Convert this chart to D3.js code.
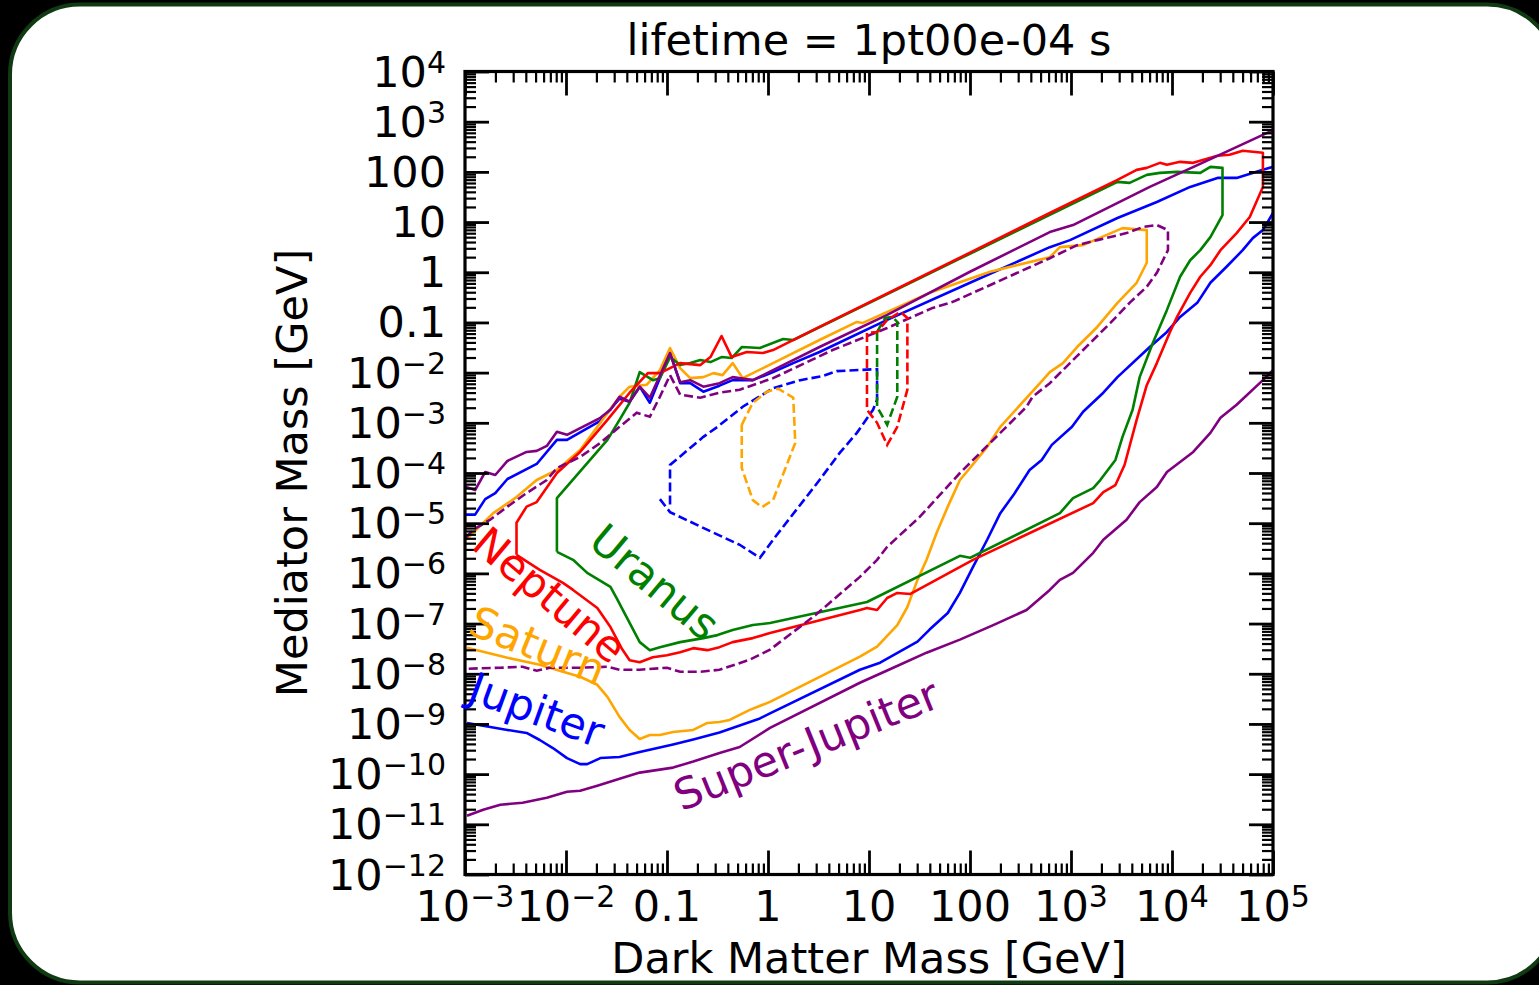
<!DOCTYPE html>
<html>
<head>
<meta charset="utf-8">
<script src="https://cdn.jsdelivr.net/npm/d3@7"></script>
<style>
  body { margin: 0; background: #000; }
  svg { display: block; }
  text { font-family: "DejaVu Sans", sans-serif; fill: #000; }
</style>
</head>
<body>
<script>
var width = 1539;
var height = 985;
var plot = {left: 465, right: 1273, top: 71.5, bottom: 874.5};

// every point is [log10 dark matter mass / GeV, log10 mediator mass / GeV]
var jupiterUpper = [[-2.99,-4.83],[-2.90,-4.83],[-2.80,-4.52],[-2.70,-4.40],[-2.58,-4.12],[-2.29,-3.82],[-2.09,-3.34],[-1.99,-3.34],[-1.66,-2.96],[-1.47,-2.52],[-1.37,-2.58],[-1.27,-2.28],[-1.17,-2.60],[-0.97,-1.61],[-0.87,-2.21],[-0.77,-2.21],[-0.64,-2.38],[-0.48,-2.26],[-0.35,-2.15],[-0.15,-2.15],[0.05,-1.99],[0.25,-1.81],[0.51,-1.59],[1.18,-0.95],[2.00,-0.21],[2.79,0.50],[2.99,0.64],[3.46,1.08],[3.85,1.40],[4.18,1.70],[4.45,1.88],[4.64,1.88],[4.90,2.04],[5.00,2.10]];
var jupiterLower = [[-2.98,-8.98],[-2.75,-9.06],[-2.58,-9.12],[-2.39,-9.18],[-2.26,-9.32],[-2.13,-9.48],[-1.99,-9.68],[-1.86,-9.80],[-1.79,-9.80],[-1.66,-9.68],[-1.47,-9.66],[-1.27,-9.56],[-0.94,-9.41],[-0.74,-9.31],[-0.48,-9.17],[-0.28,-9.03],[-0.08,-8.89],[0.02,-8.79],[0.91,-7.92],[1.11,-7.78],[1.48,-7.36],[1.60,-7.12],[1.78,-6.79],[1.90,-6.39],[2.03,-5.87],[2.17,-5.33],[2.30,-4.80],[2.43,-4.44],[2.59,-3.94],[2.71,-3.74],[2.81,-3.44],[3.01,-3.08],[3.12,-2.78],[3.32,-2.40],[3.46,-2.09],[3.78,-1.49],[3.95,-1.19],[4.08,-0.89],[4.25,-0.61],[4.38,-0.21],[4.54,0.11],[4.70,0.44],[4.80,0.68],[4.90,0.84],[5.00,1.18]];
var saturnSolid = [[-2.99,-5.33],[-2.92,-5.19],[-2.72,-4.80],[-2.49,-4.48],[-2.29,-4.14],[-2.09,-3.94],[-1.86,-3.54],[-1.66,-3.00],[-1.47,-2.48],[-1.37,-2.28],[-1.20,-2.24],[-1.07,-1.95],[-0.97,-1.51],[-0.87,-1.91],[-0.77,-2.11],[-0.64,-2.09],[-0.54,-2.01],[-0.45,-2.05],[-0.35,-1.81],[-0.25,-2.11],[0.51,-1.35],[0.88,-0.99],[0.94,-1.01],[1.60,-0.41],[2.20,0.01],[2.79,0.30],[2.89,0.50],[3.12,0.54],[3.51,0.88],[3.75,0.84],[3.75,0.19],[3.65,-0.21],[3.46,-0.61],[3.26,-1.09],[3.06,-1.49],[2.92,-1.81],[2.79,-1.99],[2.72,-2.15],[2.30,-3.08],[2.17,-3.48],[2.00,-3.90],[1.90,-4.14],[1.78,-4.67],[1.67,-5.19],[1.57,-5.73],[1.48,-6.13],[1.38,-6.67],[1.28,-7.03],[1.08,-7.46],[0.91,-7.66],[0.02,-8.56],[-0.18,-8.72],[-0.38,-8.92],[-0.48,-8.96],[-0.60,-8.98],[-0.74,-9.12],[-0.94,-9.16],[-1.07,-9.22],[-1.17,-9.22],[-1.27,-9.30],[-1.37,-9.12],[-1.47,-8.86],[-1.59,-8.46],[-1.69,-8.22],[-1.86,-8.06],[-2.03,-7.96],[-2.26,-7.82],[-2.58,-7.68],[-2.98,-7.48]];
var uranusSolid = [[-2.09,-5.57],[-2.09,-4.50],[-1.59,-3.34],[-1.47,-2.94],[-1.37,-2.60],[-1.27,-1.99],[-1.14,-2.15],[-1.07,-2.11],[-0.97,-1.69],[-0.87,-1.85],[-0.77,-1.81],[-0.67,-1.75],[-0.57,-1.79],[-0.46,-1.69],[-0.36,-1.71],[-0.26,-1.49],[-0.08,-1.51],[0.15,-1.33],[0.25,-1.35],[1.90,0.27],[3.46,1.80],[3.58,1.78],[3.75,1.94],[3.88,1.98],[4.05,2.00],[4.28,1.98],[4.38,2.10],[4.50,2.08],[4.50,1.14],[4.38,0.70],[4.28,0.44],[4.18,0.24],[4.08,-0.09],[3.95,-0.75],[3.81,-1.41],[3.68,-2.09],[3.61,-2.74],[3.51,-3.28],[3.44,-3.74],[3.29,-4.14],[3.22,-4.30],[3.02,-4.50],[2.89,-4.80],[2.00,-5.69],[1.90,-5.65],[0.98,-6.57],[0.02,-6.99],[-0.15,-7.03],[-0.35,-7.13],[-0.50,-7.23],[-0.64,-7.29],[-0.87,-7.37],[-1.07,-7.47],[-1.17,-7.53],[-1.27,-7.37],[-1.40,-6.87],[-1.50,-6.49],[-1.56,-6.27],[-1.79,-5.99],[-1.93,-5.73],[-2.09,-5.57]];
var neptuneSolid = [[-2.49,-5.63],[-2.49,-4.99],[-2.39,-4.67],[-2.29,-4.58],[-2.09,-4.00],[-1.86,-3.58],[-1.59,-2.94],[-1.37,-2.40],[-1.19,-2.01],[-1.07,-2.01],[-0.87,-1.81],[-0.67,-1.85],[-0.57,-1.69],[-0.46,-1.27],[-0.36,-1.69],[-0.21,-1.59],[-0.05,-1.61],[0.05,-1.55],[0.51,-1.09],[2.00,0.39],[2.79,1.18],[3.46,1.84],[3.65,2.04],[3.75,2.08],[3.88,2.18],[3.95,2.14],[4.08,2.20],[4.21,2.18],[4.45,2.32],[4.57,2.34],[4.70,2.42],[4.90,2.38],[4.90,1.70],[4.77,1.10],[4.64,0.78],[4.48,0.44],[4.38,0.14],[4.28,-0.09],[4.18,-0.41],[4.05,-0.89],[3.98,-1.19],[3.85,-1.81],[3.75,-2.25],[3.65,-2.94],[3.53,-3.84],[3.44,-4.24],[3.32,-4.38],[3.22,-4.60],[2.03,-5.73],[1.41,-6.41],[1.28,-6.39],[1.18,-6.49],[1.08,-6.73],[0.98,-6.69],[0.91,-6.73],[0.02,-7.19],[-0.15,-7.29],[-0.35,-7.37],[-0.48,-7.47],[-0.60,-7.53],[-0.74,-7.49],[-0.87,-7.57],[-1.00,-7.63],[-1.14,-7.67],[-1.27,-7.77],[-1.37,-7.73],[-1.45,-7.49],[-1.56,-7.07],[-1.69,-6.69],[-1.93,-6.33],[-2.03,-6.19],[-2.26,-5.93],[-2.49,-5.63]];
var superJupiterUpper = [[-2.99,-4.28],[-2.90,-4.34],[-2.80,-3.98],[-2.70,-4.04],[-2.58,-3.76],[-2.39,-3.58],[-2.29,-3.56],[-2.19,-3.46],[-2.09,-3.18],[-1.99,-3.24],[-1.66,-2.90],[-1.56,-2.74],[-1.47,-2.48],[-1.37,-2.58],[-1.27,-2.28],[-1.17,-2.50],[-0.97,-1.61],[-0.87,-2.19],[-0.77,-2.15],[-0.64,-2.28],[-0.48,-2.21],[-0.35,-2.09],[-0.15,-2.15],[0.05,-1.95],[0.51,-1.49],[1.18,-0.85],[2.00,0.01],[2.79,0.80],[3.02,0.94],[3.78,1.70],[4.30,2.18],[5.00,2.83]];
var superJupiterLower = [[-2.98,-10.83],[-2.82,-10.71],[-2.65,-10.61],[-2.43,-10.57],[-2.19,-10.47],[-1.99,-10.35],[-1.86,-10.33],[-1.69,-10.23],[-1.47,-10.09],[-1.27,-9.97],[-0.94,-9.87],[-0.74,-9.75],[-0.48,-9.58],[-0.28,-9.46],[0.02,-9.08],[0.91,-8.18],[1.24,-7.88],[1.57,-7.58],[1.90,-7.32],[2.23,-7.03],[2.56,-6.73],[2.79,-6.33],[2.89,-6.13],[3.02,-5.99],[3.22,-5.59],[3.32,-5.33],[3.55,-4.93],[3.68,-4.58],[3.85,-4.28],[3.95,-3.98],[4.21,-3.58],[4.38,-3.20],[4.48,-2.90],[4.64,-2.64],[4.90,-2.15],[5.00,-1.95]];

var superJupiterDashed = [[-2.99,-5.29],[-2.92,-5.13],[-2.75,-4.93],[-2.58,-4.67],[-2.39,-4.40],[-2.19,-4.14],[-2.09,-3.90],[-1.86,-3.68],[-1.66,-3.40],[-1.47,-3.08],[-1.30,-2.80],[-1.17,-2.88],[-1.07,-2.48],[-0.97,-2.05],[-0.87,-2.44],[-0.67,-2.50],[-0.48,-2.40],[-0.28,-2.34],[0.05,-2.11],[0.64,-1.55],[1.18,-1.11],[1.63,-0.71],[1.83,-0.59],[2.79,0.28],[3.06,0.54],[3.26,0.64],[3.55,0.78],[3.71,0.90],[3.85,0.94],[3.96,0.84],[3.96,0.44],[3.85,-0.01],[3.75,-0.29],[3.58,-0.61],[3.39,-1.01],[3.19,-1.41],[2.99,-1.81],[2.79,-2.21],[2.62,-2.48],[2.56,-2.68],[2.20,-3.40],[1.90,-4.00],[1.50,-4.88],[1.18,-5.47],[1.08,-5.73],[0.91,-6.07],[0.47,-6.83],[0.02,-7.52],[-0.18,-7.72],[-0.48,-7.92],[-0.67,-7.96],[-0.87,-7.96],[-1.00,-7.88],[-1.27,-7.92],[-1.47,-7.92],[-1.59,-7.86],[-1.86,-7.88],[-2.16,-7.88],[-2.29,-7.94],[-2.43,-7.86],[-2.65,-7.88],[-2.98,-7.90]];
var jupiterDashed = [[-1.07,-4.52],[-0.97,-4.78],[-0.54,-5.19],[-0.28,-5.43],[-0.08,-5.69],[0.05,-5.33],[0.51,-4.14],[0.71,-3.60],[0.88,-3.20],[1.04,-2.74],[1.08,-2.54],[1.08,-1.93],[0.68,-1.97],[0.54,-2.07],[0.32,-2.15],[0.05,-2.31],[-0.25,-2.68],[-0.50,-3.08],[-0.64,-3.28],[-0.97,-3.84],[-0.97,-4.68]];
var saturnDashed = [[-0.26,-3.04],[-0.15,-2.60],[-0.01,-2.38],[0.10,-2.32],[0.25,-2.50],[0.27,-3.40],[0.05,-4.54],[-0.06,-4.68],[-0.15,-4.54],[-0.26,-3.90],[-0.26,-3.04]];
var uranusDashed = [[1.08,-1.19],[1.08,-2.68],[1.18,-3.04],[1.28,-2.48],[1.28,-0.99],[1.23,-0.89],[1.16,-0.91],[1.08,-1.19]];
var neptuneDashed = [[0.98,-1.21],[0.98,-2.74],[1.08,-3.00],[1.18,-3.44],[1.28,-3.08],[1.38,-2.34],[1.38,-0.91],[1.31,-0.79],[1.18,-0.95],[1.08,-1.19],[0.98,-1.21]];

var xTicks = [1e-3, 1e-2, 0.1, 1, 10, 100, 1e3, 1e4, 1e5];
var yTicks = [1e4, 1e3, 100, 10, 1, 0.1, 1e-2, 1e-3, 1e-4, 1e-5, 1e-6, 1e-7, 1e-8, 1e-9, 1e-10, 1e-11, 1e-12];

var colors = {jupiter: "#0000ff", saturn: "#ffa500", uranus: "#008000", neptune: "#ff0000", superJupiter: "#800080"};

var solidCurves = [
  {pts: jupiterUpper, c: colors.jupiter},
  {pts: jupiterLower, c: colors.jupiter},
  {pts: saturnSolid, c: colors.saturn},
  {pts: uranusSolid, c: colors.uranus},
  {pts: neptuneSolid, c: colors.neptune},
  {pts: superJupiterUpper, c: colors.superJupiter},
  {pts: superJupiterLower, c: colors.superJupiter}
];
var dashedCurves = [
  {pts: superJupiterDashed, c: colors.superJupiter},
  {pts: jupiterDashed, c: colors.jupiter},
  {pts: saturnDashed, c: colors.saturn},
  {pts: uranusDashed, c: colors.uranus},
  {pts: neptuneDashed, c: colors.neptune}
];

// label anchors in the same log coordinates, plus rotation
var labelSpots = [
  {text: "Neptune", c: colors.neptune, at: [-2.16, -6.43], angle: 40},
  {text: "Uranus", c: colors.uranus, at: [-1.12, -6.17], angle: 40},
  {text: "Saturn", c: colors.saturn, at: [-2.28, -7.44], angle: 22},
  {text: "Jupiter", c: colors.jupiter, at: [-2.29, -8.72], angle: 20},
  {text: "Super-Jupiter", c: colors.superJupiter, at: [0.38, -9.42], angle: -22}
];

var svg = d3.select("body").append("svg")
  .attr("width", width).attr("height", height);

svg.append("rect")
  .attr("x", 10).attr("y", 4.5)
  .attr("width", 1547).attr("height", 978)
  .attr("rx", 70).attr("ry", 70)
  .attr("fill", "#fff")
  .attr("stroke", "#0f3a12").attr("stroke-width", 4);

var x = d3.scaleLog().domain([1e-3, 1e5]).range([plot.left, plot.right]);
var y = d3.scaleLog().domain([1e-12, 1e4]).range([plot.bottom, plot.top]);

svg.append("clipPath").attr("id", "clip").append("rect")
  .attr("x", plot.left).attr("y", plot.top)
  .attr("width", plot.right - plot.left).attr("height", plot.bottom - plot.top);

var line = d3.line()
  .x(function(d) { return x(Math.pow(10, d[0])); })
  .y(function(d) { return y(Math.pow(10, d[1])); });

var curves = svg.append("g").attr("clip-path", "url(#clip)");

curves.selectAll("path.solid").data(solidCurves).enter().append("path")
  .attr("class", "solid")
  .attr("d", function(d) { return line(d.pts); })
  .attr("fill", "none")
  .attr("stroke", function(d) { return d.c; })
  .attr("stroke-width", 2.6)
  .attr("stroke-linejoin", "round");

curves.selectAll("path.dashed").data(dashedCurves).enter().append("path")
  .attr("class", "dashed")
  .attr("d", function(d) { return line(d.pts); })
  .attr("fill", "none")
  .attr("stroke", function(d) { return d.c; })
  .attr("stroke-width", 2.6)
  .attr("stroke-dasharray", "9,4");

// minor ticks at 2..9 of every decade
var minorX = [], minorY = [];
for (var e = -3; e < 5; e++) for (var m = 2; m < 10; m++) minorX.push(m * Math.pow(10, e));
for (var e = -12; e < 4; e++) for (var m = 2; m < 10; m++) minorY.push(m * Math.pow(10, e));

var axes = svg.append("g");
function addAxis(axisFn, scale, vals, len, w, tx, ty) {
  var g = axes.append("g")
    .attr("transform", "translate(" + tx + "," + ty + ")")
    .call(axisFn(scale).tickValues(vals).tickSize(-len).tickFormat(""));
  g.select(".domain").remove();
  g.selectAll("line").attr("stroke", "#000").attr("stroke-width", w);
}
addAxis(d3.axisBottom, x, xTicks, 24, 2.8, 0, plot.bottom);
addAxis(d3.axisBottom, x, minorX, 11, 2.2, 0, plot.bottom);
addAxis(d3.axisTop, x, xTicks, 24, 2.8, 0, plot.top);
addAxis(d3.axisTop, x, minorX, 11, 2.2, 0, plot.top);
addAxis(d3.axisLeft, y, yTicks, 24, 2.8, plot.left, 0);
addAxis(d3.axisLeft, y, minorY, 11, 2.2, plot.left, 0);
addAxis(d3.axisRight, y, yTicks, 24, 2.8, plot.right, 0);
addAxis(d3.axisRight, y, minorY, 11, 2.2, plot.right, 0);

svg.append("rect")
  .attr("x", plot.left).attr("y", plot.top)
  .attr("width", plot.right - plot.left).attr("height", plot.bottom - plot.top)
  .attr("fill", "none").attr("stroke", "#000").attr("stroke-width", 3.2);

// 0.1 .. 100 written out, everything else as a power of ten
function writeTick(t, v) {
  var p = Math.round(Math.log10(v));
  if (p >= -1 && p <= 2) { t.text(String(v)); return; }
  t.append("tspan").text("10");
  t.append("tspan").attr("font-size", 30).attr("dy", -14)
    .text(p < 0 ? "\u2212" + (-p) : String(p));
}

svg.append("g").selectAll("text").data(xTicks).enter().append("text")
  .attr("x", function(d) { return x(d); })
  .attr("y", 921)
  .attr("text-anchor", "middle")
  .attr("font-size", 43)
  .each(function(d) { writeTick(d3.select(this), d); });

svg.append("g").selectAll("text").data(yTicks).enter().append("text")
  .attr("x", 446)
  .attr("y", function(d) { return y(d) + 15; })
  .attr("text-anchor", "end")
  .attr("font-size", 43)
  .each(function(d) { writeTick(d3.select(this), d); });

svg.append("text")
  .attr("x", (plot.left + plot.right) / 2).attr("y", 55)
  .attr("text-anchor", "middle").attr("font-size", 43)
  .text("lifetime = 1pt00e-04 s");

svg.append("text")
  .attr("x", (plot.left + plot.right) / 2).attr("y", 973)
  .attr("text-anchor", "middle").attr("font-size", 43)
  .text("Dark Matter Mass [GeV]");

svg.append("text")
  .attr("transform", "translate(307," + (plot.top + plot.bottom) / 2 + ") rotate(-90)")
  .attr("text-anchor", "middle").attr("font-size", 43)
  .text("Mediator Mass [GeV]");

svg.append("g").selectAll("text").data(labelSpots).enter().append("text")
  .attr("transform", function(d) {
    return "translate(" + x(Math.pow(10, d.at[0])) + "," + y(Math.pow(10, d.at[1])) + ") rotate(" + d.angle + ")";
  })
  .attr("text-anchor", "middle")
  .attr("dominant-baseline", "central")
  .attr("font-size", 43)
  .style("fill", function(d) { return d.c; })
  .text(function(d) { return d.text; });
</script>
</body>
</html>
